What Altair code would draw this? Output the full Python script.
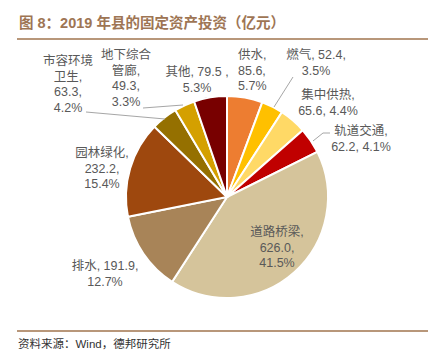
import altair as alt
import pandas as pd

# ---- data ----
names = ["供水", "燃气", "集中供热", "轨道交通", "道路桥梁", "排水", "园林绿化", "市容环境卫生", "地下综合管廊", "其他"]
values = [85.6, 52.4, 65.6, 62.2, 626.0, 191.9, 232.2, 63.3, 49.3, 79.5]
pcts = ["5.7%", "3.5%", "4.4%", "4.1%", "41.5%", "12.7%", "15.4%", "4.2%", "3.3%", "5.3%"]
colors = ["#ED7D31", "#FFC000", "#FFD966", "#C00000", "#D5C49B", "#A88458",
          "#9E480E", "#957000", "#D4A000", "#780000"]

title_text = "图 8：2019 年县的固定资产投资（亿元）"
source_text = "资料来源：Wind，德邦研究所"

# ---- layout (label wrapping and positions, page px) ----
label_templates = [
    ["{n},", "{v},", "{p}"],
    ["{n}, {v},", "{p}"],
    ["{n},", "{v}, {p}"],
    ["{n},", "{v}, {p}"],
    ["{n},", "{v},", "{p}"],
    ["{n}, {v},", "{p}"],
    ["{n},", "{v},", "{p}"],
    ["市容环境", "卫生,", "{v},", "{p}"],
    ["地下综合", "管廊,", "{v},", "{p}"],
    ["{n}, {v} ,", "{p}"],
]
label_pos = [(238, 55, "left"), (316, 55, "center"), (328, 95, "center"), (361, 131, "center"),
             (277, 232, "center"), (105, 266, "center"), (102, 153, "center"),
             (68, 61, "center"), (126, 55, "center"), (197, 72, "center")]
line_gap = 15.5
leaders = [  # (x1, y1, x2, y2) page px
    (293, 77, 274, 107),
    (313, 141, 323, 133), (323, 133, 330, 133),
    (86, 112, 165, 119),
    (143, 108, 183, 105),
]
OFF = 8
cx, cy, R = 227, 197, 101

df = pd.DataFrame({"name": names, "value": values, "idx": list(range(len(names)))})

rows = []
for n, v, p, tpl, (lx, ly, al) in zip(names, values, pcts, label_templates, label_pos):
    for i, t in enumerate(tpl):
        rows.append({"x": lx - OFF, "y": ly - OFF + i * line_gap,
                     "t": t.format(n=n, v=f"{v:.1f}", p=p), "al": al})
lab = pd.DataFrame(rows)

lead = pd.DataFrame([{"x": a - OFF, "y": b - OFF, "x2": c - OFF, "y2": d - OFF} for a, b, c, d in leaders])

FONT = "Liberation Sans, Noto Sans CJK SC"

pie = alt.Chart(df).mark_arc(outerRadius=R, stroke="white", strokeWidth=2).encode(
    theta=alt.Theta("value:Q", stack=True),
    order=alt.Order("idx:Q", sort="ascending"),
    color=alt.Color("name:N", scale=alt.Scale(domain=names, range=colors), legend=None),
    x=alt.value(cx - OFF), y=alt.value(cy - OFF),
)

lead_ch = alt.Chart(lead).mark_rule(color="#A6A6A6", strokeWidth=1).encode(
    x=alt.X("x:Q", scale=None, axis=None), y=alt.Y("y:Q", scale=None, axis=None),
    x2="x2:Q", y2="y2:Q")

lab_c = alt.Chart(lab[lab.al == "center"]).mark_text(
    font=FONT, fontSize=12.5, color="#595959", align="center", baseline="middle").encode(
    x=alt.X("x:Q", scale=None, axis=None), y=alt.Y("y:Q", scale=None, axis=None), text="t:N")
lab_l = alt.Chart(lab[lab.al == "left"]).mark_text(
    font=FONT, fontSize=12.5, color="#595959", align="left", baseline="middle").encode(
    x=alt.X("x:Q", scale=None, axis=None), y=alt.Y("y:Q", scale=None, axis=None), text="t:N")

frame = pd.DataFrame({"x": [17 - OFF, 17 - OFF], "x2": [428 - OFF, 428 - OFF],
                      "y": [39 - OFF, 331 - OFF]})
rules = alt.Chart(frame).mark_rule(color="#B8977A", strokeWidth=2).encode(
    x=alt.X("x:Q", scale=None, axis=None), x2="x2:Q", y=alt.Y("y:Q", scale=None, axis=None))

title = alt.Chart(pd.DataFrame({"t": [title_text]})).mark_text(
    font=FONT, fontSize=14.5, fontWeight="bold", color="#9E7554", align="left", baseline="middle").encode(
    x=alt.value(19 - OFF), y=alt.value(24 - OFF), text="t:N")
source = alt.Chart(pd.DataFrame({"t": [source_text]})).mark_text(
    font=FONT, fontSize=11.5, color="#333333", align="left", baseline="middle").encode(
    x=alt.value(18 - OFF), y=alt.value(345 - OFF), text="t:N")

chart = alt.layer(pie, lead_ch, lab_c, lab_l, rules, title, source).properties(
    width=425, height=348, padding=0, background="white",
    autosize=alt.AutoSizeParams(type="none"),
).configure_view(stroke=None)

chart.save("out.html", embed_options={"renderer": "svg", "actions": False})
